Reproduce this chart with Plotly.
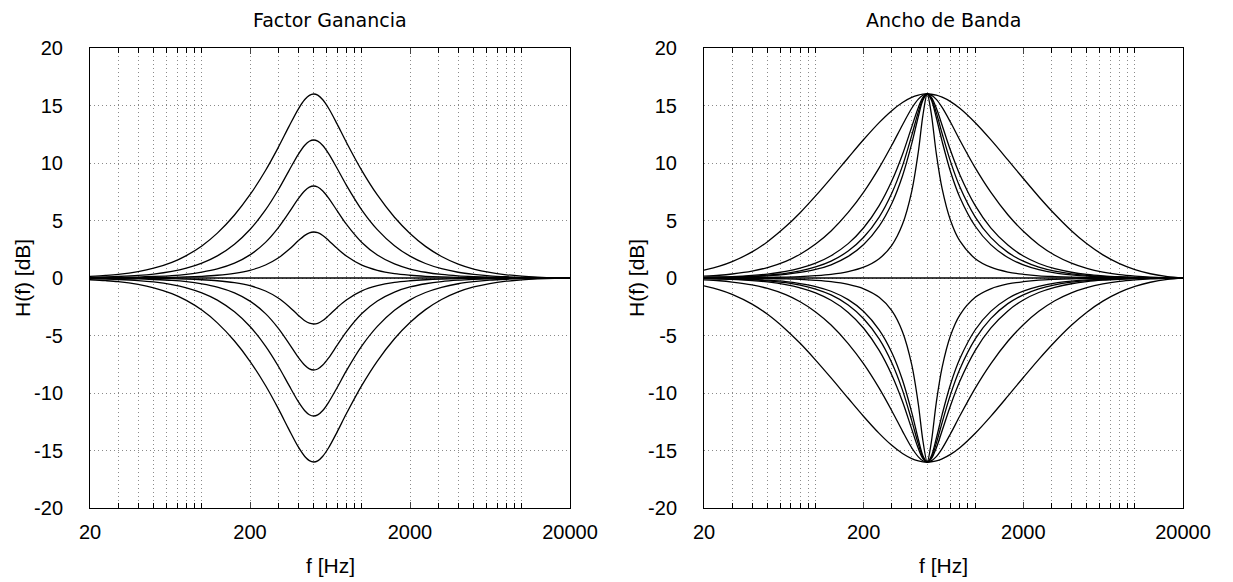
import plotly.graph_objects as go

W, H = 1233, 582

# ---------------- data ----------------
freq_hz = [20, 25, 30, 40, 50, 65, 80, 100, 125, 160, 200, 250, 300, 350, 400, 440, 470, 500, 530,
           570, 620, 700, 800, 1000, 1250, 1600, 2000, 2500, 3150, 4000, 5000, 6300, 8000, 10000,
           12500, 16000, 20000]

# Left panel "Factor Ganancia": same bandwidth, different gains (dB)
gain_p16 = [0.15, 0.23, 0.32, 0.56, 0.85, 1.36, 1.95, 2.79, 3.90, 5.48, 7.24, 9.35, 11.34, 13.16, 14.67, 15.52, 15.88, 16.00, 15.90,
            15.50, 14.76, 13.40, 11.81, 9.34, 7.22, 5.28, 3.87, 2.75, 1.87, 1.21, 0.78, 0.48, 0.28, 0.16, 0.08, 0.02, 0.00]
gain_p12 = [0.06, 0.09, 0.13, 0.22, 0.34, 0.57, 0.85, 1.29, 1.92, 2.94, 4.22, 5.92, 7.65, 9.32, 10.73, 11.54, 11.89, 12.00, 11.90,
            11.52, 10.81, 9.54, 8.08, 5.91, 4.21, 2.81, 1.90, 1.26, 0.81, 0.50, 0.32, 0.19, 0.11, 0.06, 0.03, 0.01, 0.00]
gain_p8 = [0.02, 0.03, 0.05, 0.08, 0.13, 0.21, 0.32, 0.51, 0.79, 1.29, 2.01, 3.10, 4.36, 5.68, 6.88, 7.59, 7.90, 8.00, 7.91,
           7.57, 6.95, 5.86, 4.68, 3.09, 2.00, 1.22, 0.78, 0.50, 0.31, 0.19, 0.12, 0.07, 0.04, 0.02, 0.01, 0.00, 0.00]
gain_p4 = [0.01, 0.01, 0.01, 0.02, 0.04, 0.06, 0.09, 0.15, 0.24, 0.41, 0.67, 1.13, 1.74, 2.47, 3.23, 3.71, 3.93, 4.00, 3.94,
           3.70, 3.27, 2.58, 1.91, 1.12, 0.67, 0.38, 0.24, 0.15, 0.09, 0.05, 0.03, 0.02, 0.01, 0.00, 0.00, 0.00, 0.00]
gain_0 = [0.0] * 37
gain_m4 = [-0.01, -0.01, -0.01, -0.02, -0.04, -0.06, -0.09, -0.15, -0.24, -0.41, -0.67, -1.13, -1.74, -2.47, -3.23, -3.71, -3.93, -4.00, -3.94,
           -3.70, -3.27, -2.58, -1.91, -1.12, -0.67, -0.38, -0.24, -0.15, -0.09, -0.05, -0.03, -0.02, -0.01, 0.00, 0.00, 0.00, 0.00]
gain_m8 = [-0.02, -0.03, -0.05, -0.08, -0.13, -0.21, -0.32, -0.51, -0.79, -1.29, -2.01, -3.10, -4.36, -5.68, -6.88, -7.59, -7.90, -8.00, -7.91,
           -7.57, -6.95, -5.86, -4.68, -3.09, -2.00, -1.22, -0.78, -0.50, -0.31, -0.19, -0.12, -0.07, -0.04, -0.02, -0.01, 0.00, 0.00]
gain_m12 = [-0.06, -0.09, -0.13, -0.22, -0.34, -0.57, -0.85, -1.29, -1.92, -2.94, -4.22, -5.92, -7.65, -9.32, -10.73, -11.54, -11.89, -12.00, -11.90,
            -11.52, -10.81, -9.54, -8.08, -5.91, -4.21, -2.81, -1.90, -1.26, -0.81, -0.50, -0.32, -0.19, -0.11, -0.06, -0.03, -0.01, 0.00]
gain_m16 = [-0.15, -0.23, -0.32, -0.56, -0.85, -1.36, -1.95, -2.79, -3.90, -5.48, -7.24, -9.35, -11.34, -13.16, -14.67, -15.52, -15.88, -16.00, -15.90,
            -15.50, -14.76, -13.40, -11.81, -9.34, -7.22, -5.28, -3.87, -2.75, -1.87, -1.21, -0.78, -0.48, -0.28, -0.16, -0.08, -0.02, 0.00]

# Right panel "Ancho de Banda": +/-16 dB, bandwidth from wide (bw1) to narrow (bw6)
bw1_boost = [0.69, 1.03, 1.42, 2.27, 3.16, 4.47, 5.68, 7.14, 8.69, 10.46, 12.04, 13.51, 14.55, 15.26, 15.70, 15.90, 15.98, 16.00, 15.98,
             15.90, 15.72, 15.34, 14.76, 13.50, 12.03, 10.27, 8.65, 7.07, 5.54, 4.11, 2.97, 2.01, 1.25, 0.73, 0.37, 0.12, 0.01]
bw2_boost = [0.16, 0.24, 0.35, 0.60, 0.91, 1.45, 2.07, 2.95, 4.09, 5.70, 7.47, 9.58, 11.54, 13.31, 14.76, 15.55, 15.89, 16.00, 15.90,
             15.53, 14.83, 13.54, 12.00, 9.57, 7.46, 5.50, 4.06, 2.90, 1.98, 1.29, 0.84, 0.52, 0.30, 0.17, 0.08, 0.03, 0.00]
bw3_boost = [0.06, 0.09, 0.12, 0.22, 0.34, 0.57, 0.85, 1.29, 1.94, 2.99, 4.37, 6.30, 8.43, 10.74, 13.14, 14.83, 15.70, 16.00, 15.73,
             14.78, 13.28, 11.08, 8.98, 6.29, 4.36, 2.86, 1.91, 1.26, 0.81, 0.50, 0.31, 0.19, 0.11, 0.06, 0.03, 0.01, 0.00]
bw4_boost = [0.04, 0.06, 0.09, 0.16, 0.25, 0.41, 0.62, 0.96, 1.47, 2.34, 3.54, 5.30, 7.37, 9.75, 12.40, 14.45, 15.58, 16.00, 15.63,
             14.38, 12.57, 10.12, 7.93, 5.30, 3.53, 2.23, 1.46, 0.94, 0.59, 0.36, 0.23, 0.14, 0.08, 0.04, 0.02, 0.01, 0.00]
bw5_boost = [0.03, 0.05, 0.07, 0.12, 0.19, 0.31, 0.48, 0.74, 1.15, 1.88, 2.91, 4.51, 6.48, 8.87, 11.68, 14.04, 15.45, 16.00, 15.51,
             13.96, 11.88, 9.24, 7.03, 4.50, 2.90, 1.78, 1.14, 0.73, 0.45, 0.28, 0.17, 0.10, 0.06, 0.03, 0.02, 0.01, 0.00]
bw6_boost = [0.01, 0.01, 0.02, 0.03, 0.05, 0.08, 0.12, 0.20, 0.32, 0.56, 0.94, 1.68, 2.84, 4.67, 7.54, 10.98, 14.15, 16.00, 14.32,
             10.83, 7.77, 5.00, 3.22, 1.68, 0.94, 0.52, 0.32, 0.19, 0.12, 0.07, 0.04, 0.03, 0.01, 0.01, 0.00, 0.00, 0.00]
bw1_cut = [-0.69, -1.03, -1.42, -2.27, -3.16, -4.47, -5.68, -7.14, -8.69, -10.46, -12.04, -13.51, -14.55, -15.26, -15.70, -15.90, -15.98, -16.00, -15.98,
           -15.90, -15.72, -15.34, -14.76, -13.50, -12.03, -10.27, -8.65, -7.07, -5.54, -4.11, -2.97, -2.01, -1.25, -0.73, -0.37, -0.12, -0.01]
bw2_cut = [-0.16, -0.24, -0.35, -0.60, -0.91, -1.45, -2.07, -2.95, -4.09, -5.70, -7.47, -9.58, -11.54, -13.31, -14.76, -15.55, -15.89, -16.00, -15.90,
           -15.53, -14.83, -13.54, -12.00, -9.57, -7.46, -5.50, -4.06, -2.90, -1.98, -1.29, -0.84, -0.52, -0.30, -0.17, -0.08, -0.03, 0.00]
bw3_cut = [-0.06, -0.09, -0.12, -0.22, -0.34, -0.57, -0.85, -1.29, -1.94, -2.99, -4.37, -6.30, -8.43, -10.74, -13.14, -14.83, -15.70, -16.00, -15.73,
           -14.78, -13.28, -11.08, -8.98, -6.29, -4.36, -2.86, -1.91, -1.26, -0.81, -0.50, -0.31, -0.19, -0.11, -0.06, -0.03, -0.01, 0.00]
bw4_cut = [-0.04, -0.06, -0.09, -0.16, -0.25, -0.41, -0.62, -0.96, -1.47, -2.34, -3.54, -5.30, -7.37, -9.75, -12.40, -14.45, -15.58, -16.00, -15.63,
           -14.38, -12.57, -10.12, -7.93, -5.30, -3.53, -2.23, -1.46, -0.94, -0.59, -0.36, -0.23, -0.14, -0.08, -0.04, -0.02, -0.01, 0.00]
bw5_cut = [-0.03, -0.05, -0.07, -0.12, -0.19, -0.31, -0.48, -0.74, -1.15, -1.88, -2.91, -4.51, -6.48, -8.87, -11.68, -14.04, -15.45, -16.00, -15.51,
           -13.96, -11.88, -9.24, -7.03, -4.50, -2.90, -1.78, -1.14, -0.73, -0.45, -0.28, -0.17, -0.10, -0.06, -0.03, -0.02, -0.01, 0.00]
bw6_cut = [-0.01, -0.01, -0.02, -0.03, -0.05, -0.08, -0.12, -0.20, -0.32, -0.56, -0.94, -1.68, -2.84, -4.67, -7.54, -10.98, -14.15, -16.00, -14.32,
           -10.83, -7.77, -5.00, -3.22, -1.68, -0.94, -0.52, -0.32, -0.19, -0.12, -0.07, -0.04, -0.03, -0.01, -0.01, 0.00, 0.00, 0.00]
flat_0 = [0.0] * 37

x_major = [20, 200, 2000, 20000]
x_minor = [30, 40, 50, 60, 70, 80, 90, 100, 300, 400, 500, 600, 700, 800, 900, 1000,
           3000, 4000, 5000, 6000, 7000, 8000, 9000, 10000]
y_ticks = [-20, -15, -10, -5, 0, 5, 10, 15, 20]

left_series = [gain_p16, gain_p12, gain_p8, gain_p4, gain_0, gain_m4, gain_m8, gain_m12, gain_m16]
right_series = [bw1_boost, bw2_boost, bw3_boost, bw4_boost, bw5_boost, bw6_boost, flat_0,
                bw1_cut, bw2_cut, bw3_cut, bw4_cut, bw5_cut, bw6_cut]

# ---------------- figure ----------------
fig = go.Figure()
LINE = dict(color='black', width=1.3, shape='spline', smoothing=0.9)
for ys in left_series:
    fig.add_trace(go.Scatter(x=freq_hz, y=ys, mode='lines', line=LINE, xaxis='x', yaxis='y',
                             showlegend=False, hoverinfo='skip'))
for ys in right_series:
    fig.add_trace(go.Scatter(x=freq_hz, y=ys, mode='lines', line=LINE, xaxis='x2', yaxis='y2',
                             showlegend=False, hoverinfo='skip'))

GC = '#8a8a8a'
GD = '1px,3px'
XR = [1.3010299957, 4.3010299957]  # log10(20) .. log10(20000)


def xax(dom, anchor):
    return dict(type='log', domain=dom, anchor=anchor, range=XR,
                tickvals=x_major, ticktext=[str(v) for v in x_major], ticks='inside', ticklen=6,
                showgrid=True, gridcolor=GC, griddash=GD, gridwidth=1, automargin=False,
                minor=dict(tickvals=x_minor, ticks='inside', ticklen=5, showgrid=True,
                           gridcolor=GC, griddash=GD, gridwidth=1, tickcolor='black'),
                showline=True, linecolor='black', linewidth=1, mirror='allticks',
                tickfont=dict(family='Liberation Sans', size=20, color='black'),
                ticklabelstandoff=6, zeroline=False)


def yax(anchor):
    return dict(domain=[1 - 508 / H, 1 - 48 / H], anchor=anchor, range=[-20, 20],
                tickvals=y_ticks, ticktext=[str(v) for v in y_ticks],
                ticks='inside', ticklen=0, showgrid=True, gridcolor=GC, griddash=GD, gridwidth=1,
                showline=True, linecolor='black', linewidth=1, mirror=True, zeroline=False, automargin=False,
                tickfont=dict(family='Liberation Sans', size=20, color='black'), ticklabelstandoff=22)


fig.update_layout(
    width=W, height=H, margin=dict(l=0, r=0, t=0, b=0),
    paper_bgcolor='white', plot_bgcolor='white',
    xaxis=xax([90 / W, 570 / W], 'y'), yaxis=yax('x'),
    xaxis2=xax([704 / W, 1183 / W], 'y2'), yaxis2=yax('x2'),
)


def ann(text, px, py, size, angle=0, family='Liberation Sans'):
    fig.add_annotation(text=text, x=px / W, y=1 - py / H, xref='paper', yref='paper', showarrow=False,
                       textangle=angle, font=dict(family=family, size=size, color='black'),
                       xanchor='center', yanchor='middle')


ann('Factor Ganancia', 330, 20, 19, family='DejaVu Sans')
ann('Ancho de Banda', 943, 20, 19, family='DejaVu Sans')
ann('f [Hz]', 330, 565, 21)
ann('f [Hz]', 943, 565, 21)
ann('H(f) [dB]', 22, 278, 21, angle=-90)
ann('H(f) [dB]', 636, 278, 21, angle=-90)

fig.write_html('out.html')
